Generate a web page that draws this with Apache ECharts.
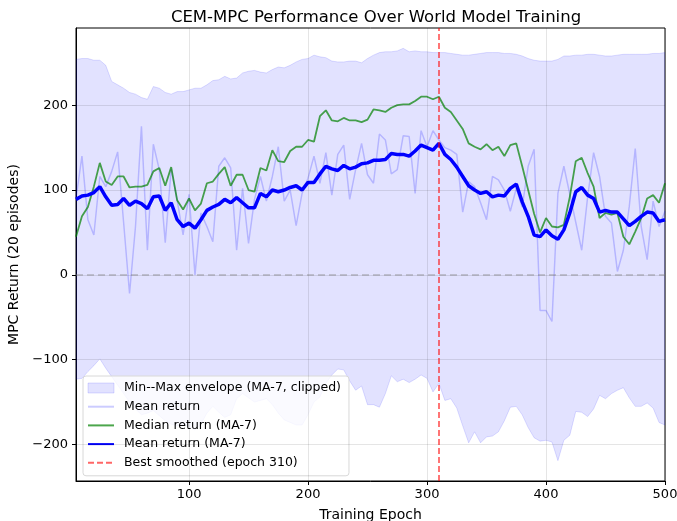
<!DOCTYPE html>
<html>
<head>
<meta charset="utf-8">
<script src="https://cdn.jsdelivr.net/npm/echarts@6/dist/echarts.min.js"></script>
<style>
html, body { margin: 0; padding: 0; background: #fff; }
#chart { width: 677px; height: 521px; }
</style>
</head>
<body>
<div id="chart"></div>
<script>
var epochs = [5, 10, 15, 20, 25, 30, 35, 40, 45, 50, 55, 60, 65, 70, 75, 80, 85, 90, 95, 100,
    105, 110, 115, 120, 125, 130, 135, 140, 145, 150, 155, 160, 165, 170, 175, 180, 185, 190, 195, 200,
    205, 210, 215, 220, 225, 230, 235, 240, 245, 250, 255, 260, 265, 270, 275, 280, 285, 290, 295, 300,
    305, 310, 315, 320, 325, 330, 335, 340, 345, 350, 355, 360, 365, 370, 375, 380, 385, 390, 395, 400,
    405, 410, 415, 420, 425, 430, 435, 440, 445, 450, 455, 460, 465, 470, 475, 480, 485, 490, 495, 500];

// min/max envelope (MA-7, clipped)
var env_upper = [254, 255, 255, 253, 253, 247, 228, 224, 220, 215,
    213, 209, 207, 222, 220, 215, 213, 216, 216, 218,
    220, 220, 224, 229, 230, 234, 231, 232, 238, 240,
    241, 239, 238, 242, 245, 244, 247, 251, 254, 255,
    259, 257, 256, 252, 251, 251, 252, 252, 250, 255,
    259, 262, 263, 263, 264, 267, 263, 264, 263, 263,
    262, 262, 262, 261, 260, 259, 259, 260, 261, 262,
    262, 262, 261, 261, 260, 258, 255, 253, 252, 252,
    252, 254, 258, 258, 259, 259, 260, 260, 259, 258,
    258, 259, 260, 260, 260, 260, 260, 261, 261, 262];
var env_lower = [-123, -122, -114, -107, -99, -110, -120, -130, -140, -150,
    -158, -165, -163, -160, -166, -172, -176, -178, -176, -179,
    -183, -176, -163, -155, -162, -168, -165, -146, -140, -145,
    -150, -148, -146, -153, -163, -171, -174, -177, -177, -165,
    -150, -144, -128, -118, -111, -112, -125, -136, -131, -153,
    -153, -156, -140, -119, -126, -123, -127, -123, -118, -122,
    -138, -128, -148, -146, -157, -178, -198, -185, -198, -191,
    -190, -185, -172, -156, -155, -165, -180, -192, -196, -195,
    -197, -219, -195, -189, -161, -162, -167, -158, -142, -146,
    -140, -136, -133, -145, -155, -155, -151, -157, -174, -177];

var mean_raw = [90, 140, 65, 47, 116, 104, 122, 145, 62, -22,
    57, 175, 29, 154, 124, 38, 125, 88, 47, 95,
    0, 73, 57, 39, 128, 138, 126, 29, 102, 37,
    89, 116, 87, 116, 151, 87, 100, 58, 96, 114,
    140, 108, 144, 94, 142, 153, 89, 124, 155, 118,
    108, 166, 159, 119, 124, 164, 163, 96, 170, 151,
    170, 159, 150, 147, 142, 74, 110, 104, 85, 65,
    116, 112, 100, 75, 102, 80, 128, 148, -42, -42,
    -55, 96, 128, 95, 62, 29, 92, 144, 116, 69,
    61, 4, 29, 81, 149, 57, 18, 87, 57, 75];

var median_ma = [45, 69, 80, 104, 132, 110, 106, 116, 116, 103,
    104, 104, 106, 122, 126, 105, 127, 88, 77, 90,
    76, 84, 108, 110, 119, 127, 105, 118, 118, 100,
    98, 126, 123, 147, 134, 133, 146, 151, 151, 159,
    157, 187, 194, 182, 181, 185, 182, 182, 180, 183,
    195, 194, 192, 197, 200, 201, 201, 205, 210, 210,
    207, 210, 197, 192, 182, 172, 155, 151, 148, 154,
    147, 151, 140, 153, 155, 128, 100, 72, 50, 67,
    57, 56, 59, 92, 134, 138, 120, 104, 67, 73,
    71, 73, 45, 36, 51, 67, 90, 94, 85, 108];

var mean_ma = [89, 93, 94, 97, 104, 92, 82, 83, 90, 82,
    87, 84, 78, 92, 93, 76, 85, 65, 57, 61,
    55, 65, 76, 80, 83, 89, 85, 91, 85, 79,
    79, 96, 92, 100, 98, 100, 103, 105, 100, 109,
    109, 119, 128, 125, 123, 129, 125, 127, 131, 132,
    135, 135, 136, 143, 142, 142, 140, 146, 153, 150,
    147, 155, 142, 136, 127, 116, 105, 100, 96, 98,
    92, 94, 93, 102, 107, 86, 69, 47, 45, 53,
    46, 42, 53, 73, 98, 103, 94, 90, 74, 76,
    74, 74, 66, 58, 63, 69, 74, 73, 63, 65];

var best_epoch = 310;
var x_ticks = [100, 200, 300, 400, 500];
var y_ticks = [-200, -100, 0, 100, 200];

function pairs(ys) {
    return epochs.map(function(e, i) { return [e, ys[i]]; });
}

function fmt(v) {
    return v < 0 ? '\u2212' + Math.abs(v) : String(v);
}

var myChart = echarts.init(document.getElementById('chart'), null, { renderer: 'canvas' });
var font = 'DejaVu Sans';
var envName = 'Min--Max envelope (MA-7, clipped)';
var bestName = 'Best smoothed (epoch ' + best_epoch + ')';
var envFill = 'rgba(0,0,255,0.115)';
var envEdge = 'rgba(0,0,255,0.13)';

// grid lines drawn as mark lines at the tick values
var gridLines = [];
x_ticks.forEach(function(v) { gridLines.push({ xAxis: v }); });
y_ticks.forEach(function(v) { gridLines.push({ yAxis: v }); });

// the whole band is drawn once, as one polygon
function renderEnvelope(params, api) {
    if (params.dataIndex !== 0) return null;
    var pts = [];
    for (var i = 0; i < epochs.length; i++) {
        pts.push(api.coord([epochs[i], env_upper[i]]));
    }
    for (var j = epochs.length - 1; j >= 0; j--) {
        pts.push(api.coord([epochs[j], env_lower[j]]));
    }
    return {
        type: 'polygon',
        shape: { points: pts },
        style: { fill: envFill, stroke: envEdge, lineWidth: 1 }
    };
}

var hideSymbol = { opacity: 0 };

var option = {
    animation: false,
    textStyle: { fontFamily: font },
    title: {
        text: 'CEM-MPC Performance Over World Model Training',
        left: 371,
        top: 4,
        textAlign: 'center',
        textStyle: { fontFamily: font, fontSize: 16.5, fontWeight: 'normal', color: '#000' }
    },
    grid: {
        left: 76, right: 12, top: 28, bottom: 40,
        outerBoundsMode: 'none',
        containLabel: false,
        show: true, borderColor: '#000', borderWidth: 1, backgroundColor: 'transparent'
    },
    legend: {
        orient: 'vertical',
        left: 83,
        top: 376,
        padding: [5, 8, 6, 4],
        itemGap: 4.7,
        itemWidth: 26,
        itemHeight: 10,
        backgroundColor: 'rgba(255,255,255,0.8)',
        borderColor: '#d8d8d8',
        borderWidth: 1,
        borderRadius: 3,
        textStyle: { fontFamily: font, fontSize: 12.5, color: '#000', lineHeight: 14, padding: [0, 0, 0, 5] },
        data: [
            { name: envName, icon: 'rect',
              itemStyle: { color: envFill, borderColor: envEdge, borderWidth: 1 } },
            { name: 'Mean return', itemStyle: hideSymbol },
            { name: 'Median return (MA-7)', itemStyle: hideSymbol },
            { name: 'Mean return (MA-7)', itemStyle: hideSymbol },
            { name: bestName, itemStyle: hideSymbol }
        ]
    },
    xAxis: {
        type: 'value',
        min: 5,
        max: 500,
        name: 'Training Epoch',
        nameLocation: 'middle',
        nameGap: 27,
        nameTextStyle: { fontFamily: font, fontSize: 14, color: '#000' },
        axisLine: { show: true, onZero: false, lineStyle: { color: '#000', width: 1 } },
        axisTick: { show: true, length: 4, customValues: x_ticks, lineStyle: { color: '#000' } },
        axisLabel: { customValues: x_ticks, fontFamily: font, fontSize: 13, color: '#000', margin: 7, formatter: fmt },
        splitLine: { show: false }
    },
    yAxis: {
        type: 'value',
        min: -243,
        max: 291,
        name: 'MPC Return (20 episodes)',
        nameLocation: 'middle',
        nameGap: 54,
        nameTextStyle: { fontFamily: font, fontSize: 14, color: '#000' },
        axisLine: { show: true, onZero: false, lineStyle: { color: '#000', width: 1 } },
        axisTick: { show: true, length: 4, customValues: y_ticks, lineStyle: { color: '#000' } },
        axisLabel: { customValues: y_ticks, fontFamily: font, fontSize: 13, color: '#000', margin: 8, formatter: fmt },
        splitLine: { show: false }
    },
    series: [
        {
            name: envName,
            type: 'custom',
            renderItem: renderEnvelope,
            clip: true,
            silent: true,
            data: epochs.map(function(e, i) { return [e, env_lower[i], env_upper[i]]; }),
            encode: { x: 0, y: [1, 2] },
            itemStyle: { color: envFill },
            markLine: {
                silent: true,
                symbol: ['none', 'none'],
                label: { show: false },
                lineStyle: { color: 'rgba(0,0,0,0.1)', width: 1, type: 'solid' },
                data: gridLines
            }
        },
        {
            name: 'zero',
            type: 'line',
            data: [],
            silent: true,
            markLine: {
                silent: true,
                symbol: ['none', 'none'],
                label: { show: false },
                lineStyle: { color: 'rgba(128,128,128,0.5)', width: 1.5, type: [7, 4] },
                data: [{ yAxis: 0 }]
            }
        },
        {
            name: 'Mean return',
            type: 'line',
            data: pairs(mean_raw),
            symbol: 'none',
            lineStyle: { color: 'rgba(0,0,255,0.2)', width: 1.5 },
            itemStyle: { color: 'rgba(0,0,255,0.2)' }
        },
        {
            name: 'Median return (MA-7)',
            type: 'line',
            data: pairs(median_ma),
            symbol: 'none',
            lineStyle: { color: 'rgba(0,128,0,0.7)', width: 1.8 },
            itemStyle: { color: 'rgba(0,128,0,0.7)' }
        },
        {
            name: 'Mean return (MA-7)',
            type: 'line',
            data: pairs(mean_ma),
            symbol: 'none',
            lineStyle: { color: '#0000ff', width: 3.5 },
            itemStyle: { color: '#0000ff' }
        },
        {
            name: bestName,
            type: 'line',
            data: [],
            symbol: 'none',
            lineStyle: { color: 'rgba(255,0,0,0.6)', width: 1.8, type: [6, 3] },
            itemStyle: { color: 'rgba(255,0,0,0.6)' },
            markLine: {
                silent: true,
                symbol: ['none', 'none'],
                label: { show: false },
                lineStyle: { color: 'rgba(255,0,0,0.6)', width: 1.8, type: [6, 3] },
                data: [{ xAxis: best_epoch }]
            }
        }
    ]
};

myChart.setOption(option);
</script>
</body>
</html>
